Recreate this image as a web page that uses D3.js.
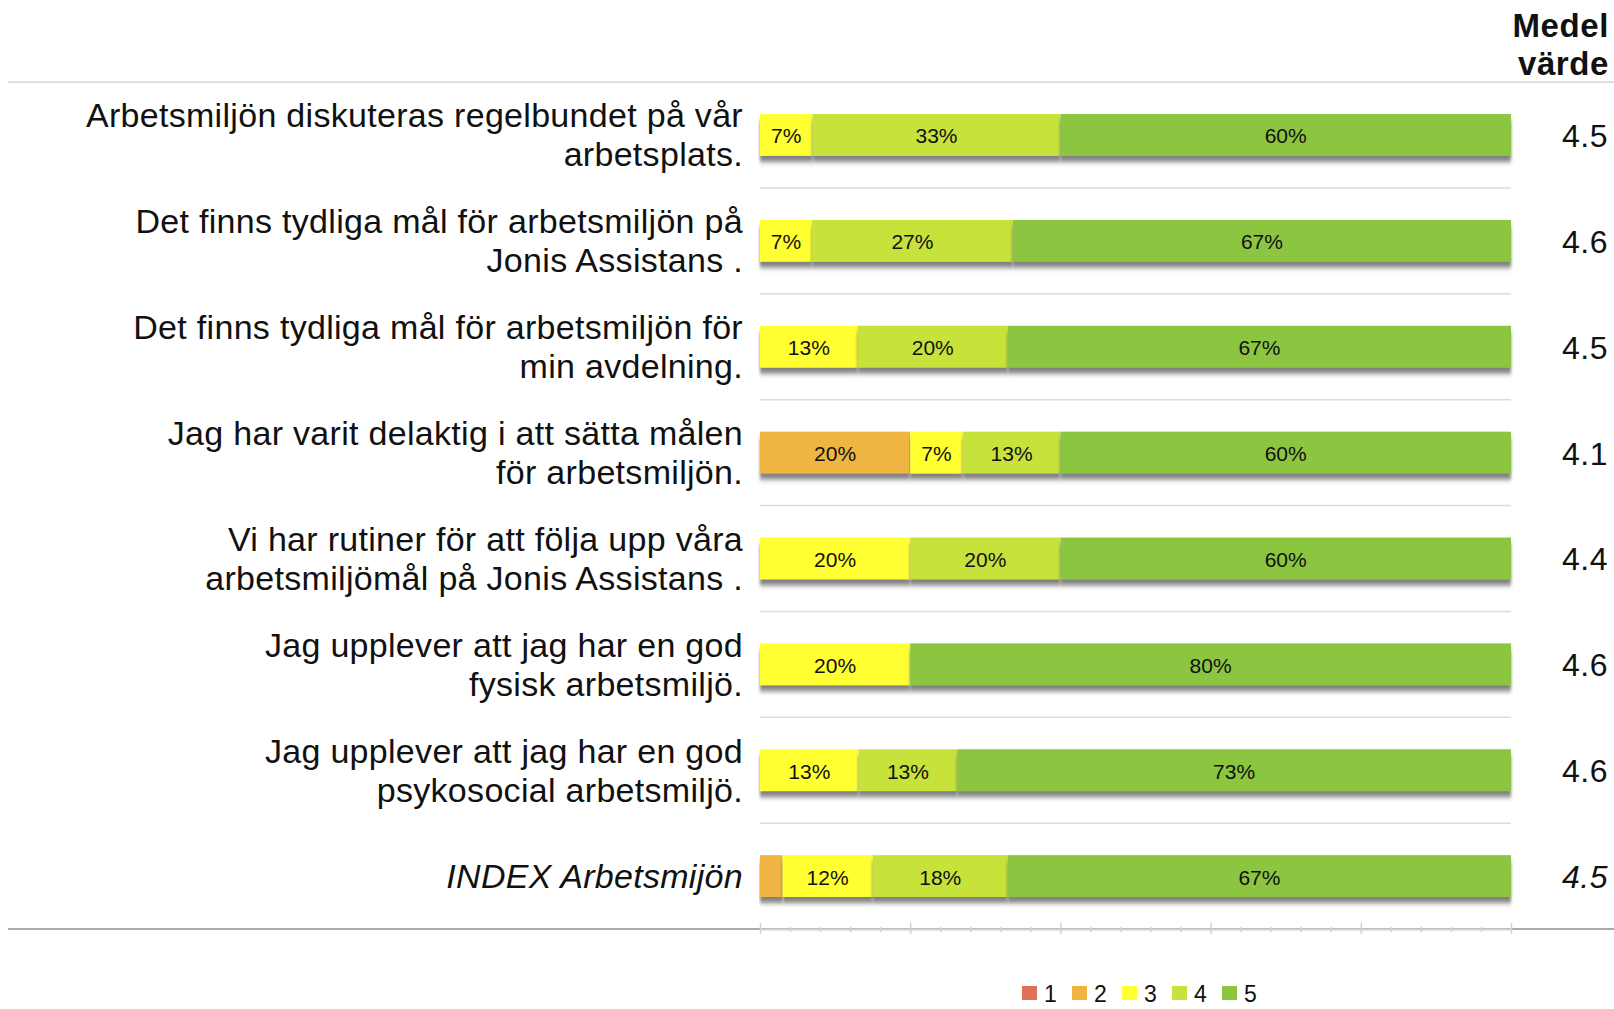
<!DOCTYPE html>
<html>
<head>
<meta charset="utf-8">
<script src="https://cdn.jsdelivr.net/npm/d3@7"></script>
<style>
  body { margin: 0; background: #fff; }
  svg text { font-family: "Liberation Sans", Arial, sans-serif; fill: #111; }
</style>
</head>
<body>
<div id="chart"></div>
<script>
// questions (line breaks as in the picture)
const questions = [
  "Arbetsmiljön diskuteras regelbundet på vår\narbetsplats.",
  "Det finns tydliga mål för arbetsmiljön på\nJonis Assistans .",
  "Det finns tydliga mål för arbetsmiljön för\nmin avdelning.",
  "Jag har varit delaktig i att sätta målen\nför arbetsmiljön.",
  "Vi har rutiner för att följa upp våra\narbetsmiljömål på Jonis Assistans .",
  "Jag upplever att jag har en god\nfysisk arbetsmiljö.",
  "Jag upplever att jag har en god\npsykosocial arbetsmiljö.",
  "INDEX Arbetsmijön"
]
const grades = ["1", "2", "3", "4", "5"]
// percent per answer 1..5, one array per grade
const pct1 = [0, 0, 0, 0, 0, 0, 0, 0]
const pct2 = [0, 0, 0, 20, 0, 0, 0, 3]
const pct3 = [7, 7, 13, 7, 20, 20, 13, 12]
const pct4 = [33, 27, 20, 13, 20, 0, 13, 18]
const pct5 = [60, 67, 67, 60, 60, 80, 73, 67]
const means = ["4.5", "4.6", "4.5", "4.1", "4.4", "4.6", "4.6", "4.5"]
const colors = ["#e0705a", "#efb443", "#ffff33", "#c7e23a", "#8cc540"]

const W = 1614, H = 1009
const svg = d3.select("#chart").append("svg")
  .attr("width", W).attr("height", H)

const defs = svg.append("defs")
const f = defs.append("filter").attr("id", "shadow")
  .attr("x", "-2%").attr("y", "-20%").attr("width", "104%").attr("height", "160%")
f.append("feGaussianBlur").attr("in", "SourceAlpha").attr("stdDeviation", "1.5 2.5").attr("result", "b")
f.append("feOffset").attr("dy", 6).attr("result", "o")
f.append("feFlood").attr("flood-color", "#555").attr("flood-opacity", 0.75)
f.append("feComposite").attr("in2", "o").attr("operator", "in").attr("result", "s")
const fm = f.append("feMerge")
fm.append("feMergeNode").attr("in", "s")
fm.append("feMergeNode").attr("in", "SourceGraphic")

// build rows
const series = [pct1, pct2, pct3, pct4, pct5]
const rows = questions.map((q, i) => {
  const vals = series.map(s => s[i])
  const tot = d3.sum(vals)
  let acc = 0
  const segs = vals.map((v, k) => {
    const s = {row: i, grade: k, v: v, x0: acc / tot * 100, x1: (acc + v) / tot * 100}
    acc += v
    return s
  })
  return {q: q, i: i, segs: segs, mean: means[i]}
})

const x = d3.scaleLinear().domain([0, 100]).range([760, 1511])
const y = d3.scaleBand().domain(d3.range(questions.length)).range([82, 929]).padding(0)
const barH = y.bandwidth() * 0.395
const cy = i => y(i) + y.bandwidth() / 2

// top and bottom lines
svg.append("line").attr("x1", 8).attr("x2", W).attr("y1", 82).attr("y2", 82)
  .attr("stroke", "#dedede").attr("stroke-width", 2)
svg.append("line").attr("x1", 8).attr("x2", W).attr("y1", 929).attr("y2", 929)
  .attr("stroke", "#aaa").attr("stroke-width", 2)

// row separators
svg.append("g").selectAll("line")
  .data(d3.range(1, questions.length))
  .enter().append("line")
    .attr("x1", x(0)).attr("x2", x(100))
    .attr("y1", d => y(d)).attr("y2", d => y(d))
    .attr("stroke", "#dcdcdc").attr("stroke-width", 1.5)

// x axis
const axis = svg.append("g")
  .attr("transform", "translate(0,929)")
  .call(d3.axisBottom(x).tickValues(d3.range(0, 101, 4)).tickFormat("").tickSizeOuter(0))
axis.select(".domain").attr("stroke", "#d2d2d2").attr("stroke-width", 2)
axis.selectAll(".tick line")
  .attr("stroke", "#d2d2d2").attr("stroke-width", 1.5)
  .attr("y1", d => d % 20 == 0 ? -6 : -2)
  .attr("y2", d => d % 20 == 0 ? 5 : 3)

// bars
const rowG = svg.append("g").selectAll("g")
  .data(rows).enter().append("g")

rowG.selectAll("rect")
  .data(d => d.segs.filter(s => s.v > 0))
  .enter().append("rect")
    .attr("x", d => x(d.x0))
    .attr("y", d => cy(d.row) - barH / 2)
    .attr("width", d => x(d.x1) - x(d.x0))
    .attr("height", barH)
    .attr("fill", d => colors[d.grade])
    .attr("filter", "url(#shadow)")

rowG.selectAll("text.pct")
  .data(d => d.segs.filter(s => s.v >= 5))
  .enter().append("text")
    .attr("class", "pct")
    .attr("x", d => (x(d.x0) + x(d.x1)) / 2)
    .attr("y", d => cy(d.row) + 1)
    .attr("text-anchor", "middle")
    .attr("dominant-baseline", "central")
    .style("font-size", "21px")
    .text(d => d.v + "%")

// question labels
rowG.append("text")
  .attr("text-anchor", "end")
  .style("font-size", "34px")
  .style("letter-spacing", "0.3px")
  .style("font-style", d => d.i == questions.length - 1 ? "italic" : "normal")
  .each(function(d) {
    const lines = d.q.split("\n")
    const t = d3.select(this)
    lines.forEach((l, k) => {
      t.append("tspan")
        .attr("x", 743)
        .attr("y", cy(d.i) + (k - (lines.length - 1) / 2) * 39)
        .attr("dominant-baseline", "central")
        .text(l)
    })
  })

// mean values
rowG.append("text")
  .attr("x", 1608)
  .attr("y", d => cy(d.i) + 1)
  .attr("text-anchor", "end")
  .attr("dominant-baseline", "central")
  .style("font-size", "32px")
  .style("letter-spacing", "0.5px")
  .style("font-style", d => d.i == questions.length - 1 ? "italic" : "normal")
  .text(d => d.mean)

// header
const hdr = svg.append("text").attr("text-anchor", "end")
  .style("font-size", "33px").style("font-weight", "bold").style("letter-spacing", "0.6px")
hdr.append("tspan").attr("x", 1609).attr("y", 37).text("Medel")
hdr.append("tspan").attr("x", 1609).attr("y", 75).text("värde")

// legend
const leg = svg.append("g").selectAll("g")
  .data(grades).enter().append("g")
  .attr("transform", (d, i) => `translate(${1022 + i * 50},986)`)
leg.append("rect").attr("width", 15).attr("height", 14)
  .attr("fill", (d, i) => colors[i])
leg.append("text").attr("x", 22).attr("y", 16)
  .style("font-size", "23px").text(d => d)
</script>
</body>
</html>
